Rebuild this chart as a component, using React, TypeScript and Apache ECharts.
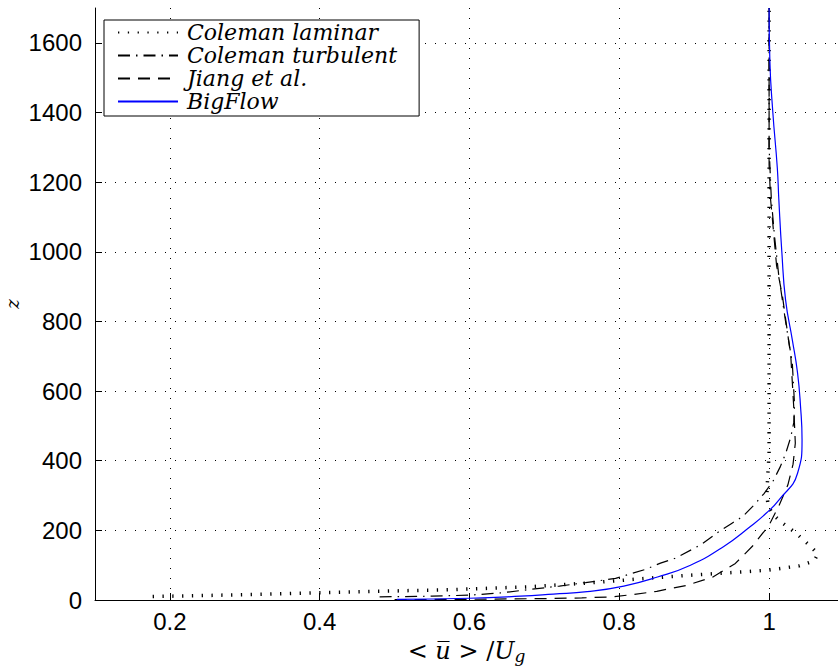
import React, { useEffect, useRef } from "react";
import * as echarts from "echarts";

// Series names
const seriesNames = ["Coleman laminar", "Coleman turbulent", "Jiang et al.", "BigFlow"];

// Coleman laminar (dotted): <u>/Ug and z
const laminarU = [0.177, 0.25, 0.33, 0.40, 0.48, 0.58, 0.68, 0.76, 0.835, 0.9, 0.96, 1.0, 1.04, 1.06, 1.065, 1.056, 1.046, 1.036, 1.025, 1.015, 1.006, 0.999, 0.997, 0.998, 1.0, 1.0, 1.0, 1.0, 1.0, 1.0];
const laminarZ = [10, 13, 17, 21, 25, 30, 38, 49, 62, 72, 80, 86, 98, 112, 132, 153, 172, 192, 210, 226, 244, 268, 300, 350, 420, 520, 700, 1000, 1300, 1700];

// Coleman turbulent (dash-dot)
const turbU = [0.48, 0.55, 0.6, 0.64, 0.68, 0.72, 0.755, 0.795, 0.835, 0.855, 0.875, 0.91, 0.93, 0.95, 0.965, 0.98, 0.993, 1.005, 1.015, 1.022, 1.029, 1.033, 1.034, 1.031, 1.022, 1.013, 1.007, 1.003, 1.0, 1.0];
const turbZ = [9, 11, 14, 20, 30, 40, 50, 62, 88, 106, 120, 160, 192, 220, 240, 273, 305, 340, 383, 420, 468, 510, 560, 680, 800, 930, 1050, 1150, 1300, 1700];

// Jiang et al. (dashed)
const jiangU = [0.5, 0.6, 0.7, 0.75, 0.79, 0.82, 0.85, 0.89, 0.925, 0.955, 0.978, 1.0, 1.013, 1.025, 1.032, 1.035, 1.033, 1.029, 1.018, 1.01, 1.005, 1.002, 1.0, 1.0];
const jiangZ = [1, 2, 4, 6, 9, 16, 25, 42, 66, 105, 155, 215, 270, 330, 390, 450, 550, 700, 870, 960, 1080, 1150, 1250, 1700];

// BigFlow (solid blue)
const bigU = [0.503, 0.6, 0.668, 0.712, 0.757, 0.806, 0.851, 0.895, 0.939, 0.975, 0.996, 1.013, 1.038, 1.044, 1.042, 1.038, 1.031, 1.022, 1.017, 1.013, 1.011, 1.005, 1.001, 1.0];
const bigZ = [2, 5, 11, 17, 24, 40, 66, 100, 153, 211, 249, 287, 364, 460, 555, 652, 747, 862, 1000, 1150, 1240, 1400, 1550, 1700];

const pairs = (u: number[], z: number[]) => u.map((v, i) => [v, z[i]]);

export default function App() {
  const ref = useRef<HTMLDivElement>(null);
  useEffect(() => {
    document.body.style.margin = "0";
    const chart = echarts.init(ref.current!, null, { renderer: "svg" });
    const black = "#000";
    const lineSeries = (name: string, u: number[], z: number[], color: string, width: number, type: any, smooth = false) => ({
      name,
      type: "line",
      data: pairs(u, z),
      showSymbol: false,
      symbol: "none",
      smooth,
      lineStyle: { color, width, type },
      itemStyle: { color },
    });
    chart.setOption({
      animation: false,
      backgroundColor: "#fff",
      grid: { left: 95, right: 0, top: 8, bottom: 70, containLabel: false, outerBoundsMode: "none" },
      xAxis: {
        type: "value",
        min: 0.1,
        max: 1.092,
        splitNumber: 5,
        axisLine: { show: true, onZero: false, lineStyle: { color: black, width: 1 } },
        axisTick: { show: true, inside: true, length: 7, lineStyle: { color: black } },
        axisLabel: { color: black, fontSize: 24, fontFamily: "Liberation Sans", margin: 9, showMinLabel: false, showMaxLabel: false },
        splitLine: { show: true, showMinLine: false, showMaxLine: false, lineStyle: { color: black, type: [1, 9], width: 1 } },
        name: "{n|< }{i|u\u0305}{n| > /}{i|U}{s|g}",
        nameLocation: "middle",
        nameGap: 38,
        nameTextStyle: {
          rich: {
            n: { fontFamily: "DejaVu Serif", fontSize: 24, color: black, lineHeight: 26 },
            i: { fontFamily: "DejaVu Serif", fontStyle: "italic", fontSize: 24, color: black, lineHeight: 26 },
            s: { fontFamily: "DejaVu Serif", fontStyle: "italic", fontSize: 17, color: black, lineHeight: 17, verticalAlign: "bottom" },
          },
        },
      },
      yAxis: {
        type: "value",
        min: 0,
        max: 1700,
        interval: 200,
        axisLine: { show: true, lineStyle: { color: black, width: 1 } },
        axisTick: { show: true, inside: true, length: 7, lineStyle: { color: black } },
        axisLabel: { color: black, fontSize: 24, fontFamily: "Liberation Sans", margin: 13, showMaxLabel: false, formatter: (v: number) => String(v) },
        splitLine: { show: true, showMinLine: false, showMaxLine: false, lineStyle: { color: black, type: [1, 9], width: 1 } },
        name: "z",
        nameLocation: "middle",
        nameGap: 74,
        nameRotate: 90,
        nameMoveOverlap: false,
        nameTextStyle: { fontFamily: "DejaVu Serif", fontStyle: "italic", fontSize: 18, color: black },
      },
      legend: {
        data: seriesNames,
        orient: "vertical",
        left: 104,
        top: 20,
        itemWidth: 60,
        itemHeight: 14,
        itemGap: 0,
        padding: [1, 22, 3, 13],
        borderColor: black,
        borderWidth: 1,
        backgroundColor: "#fff",
        itemStyle: { opacity: 0, borderWidth: 0 },
        textStyle: {
          fontFamily: "DejaVu Serif",
          fontStyle: "italic",
          fontSize: 22,
          color: black,
          lineHeight: 23,
          padding: [0, 0, 0, 4],
        },
      },
      series: [
        lineSeries(seriesNames[0], laminarU, laminarZ, black, 3.5, [1.3, 8.5]),
        lineSeries(seriesNames[1], turbU, turbZ, black, 1.2, [12, 6, 1.5, 6]),
        lineSeries(seriesNames[2], jiangU, jiangZ, black, 1.2, [12, 8]),
        lineSeries(seriesNames[3], bigU, bigZ, "#0000ff", 1.2, "solid", true),
      ],
    });
    return () => chart.dispose();
  }, []);
  return <div ref={ref} style={{ width: 838, height: 670 }} />;
}
